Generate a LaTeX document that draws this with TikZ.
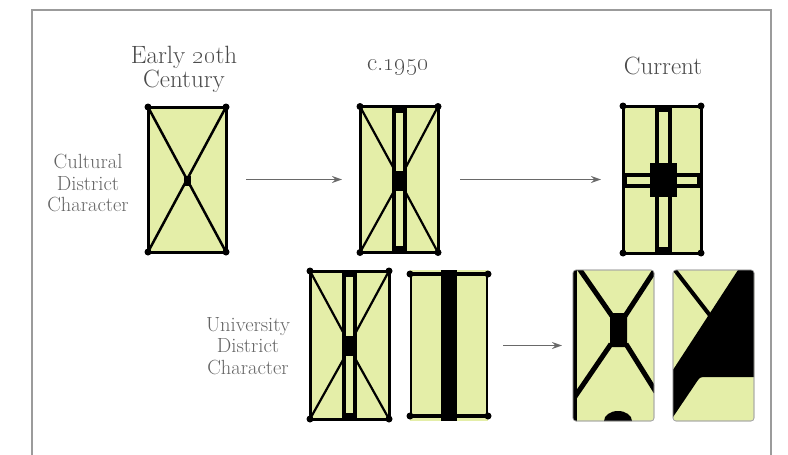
\documentclass[tikz,border=0pt]{standalone}
\usetikzlibrary{arrows.meta}
\definecolor{leaf}{RGB}{228,238,168}
\definecolor{txt}{RGB}{75,75,75}
\definecolor{sidec}{RGB}{100,100,100}
\definecolor{framec}{RGB}{155,155,155}
\definecolor{arrc}{RGB}{105,105,105}
\begin{document}
\begin{tikzpicture}[x=1pt,y=-1pt,
  panel/.style={draw=black, line width=3pt, fill=leaf, inner sep=0pt, outer sep=0pt},
  barepanel/.style={fill=leaf, inner sep=0pt, outer sep=0pt},
  softpanel/.style={draw=gray!70, line width=0.6pt, fill=leaf, rounded corners=3pt, inner sep=0pt, outer sep=0pt},
  road/.style={line width=2.5pt, black},
  wide/.style={line width=5pt, black},
  title/.style={text=txt, align=center, font=\fontsize{25}{24}\selectfont},
  side/.style={text=sidec, align=center, font=\fontsize{20.5}{21.5}\selectfont},
  arr/.style={draw=arrc, line width=1.4pt, -{Stealth[length=10pt,width=7pt]}}
]
\useasboundingbox (0,0) rectangle (788,455);
\draw[framec, line width=1.2pt] (32,455) -- (32,10) -- (771,10) -- (771,455);

% titles
\node[title] (t1) at (184,69) {Early \oldstylenums{20}th\\Century};
\node[title] (t2) at (398,67) {c.\oldstylenums{1950}};
\node[title] (t3) at (663,66) {Current};
\node[side] (s1) at (88,183) {Cultural\\District\\Character};
\node[side] (s2) at (248,346) {University\\District\\Character};

% ---- box 1
\node[panel, minimum width=78pt, minimum height=145pt] (b1) at (187,179.5) {};
\draw[road] (b1.north west) -- (b1.south east);
\draw[road] (b1.north east) -- (b1.south west);
\fill (183.5,175.5) rectangle (190.5,185.5);
\foreach \c in {north west,north east,south west,south east} \fill (b1.\c) circle[radius=3.5pt];

% ---- box 2
\node[panel, minimum width=78pt, minimum height=146pt] (b2) at (399,179.5) {};
\fill (392,106.5) rectangle (407,252.5);
\fill[leaf] (396.3,113) rectangle (402.7,171);
\fill[leaf] (396.3,191) rectangle (402.7,246);
\draw[road, line width=2.2pt] (b2.north west) -- (393,167);
\draw[road, line width=2.2pt] (b2.north east) -- (406,167);
\draw[road, line width=2.2pt] (b2.south west) -- (393,193);
\draw[road, line width=2.2pt] (b2.south east) -- (406,193);
\foreach \c in {north west,north east,south west,south east} \fill (b2.\c) circle[radius=3.5pt];

% ---- box 3
\node[panel, minimum width=78pt, minimum height=147pt] (b3) at (662,179.5) {};
\fill (655,106) rectangle (672,253);
\fill (623,173) rectangle (701,188);
\fill[leaf] (659,112) rectangle (668,247);
\fill[leaf] (627,177) rectangle (697,184);
\fill (650,163) rectangle (677,197);
\foreach \c in {north west,north east,south west,south east} \fill (b3.\c) circle[radius=3.5pt];

% ---- box 4
\node[panel, minimum width=79pt, minimum height=148pt] (b4) at (349.5,345) {};
\fill (342,271) rectangle (357,419);
\fill[leaf] (346,277) rectangle (353,336);
\fill[leaf] (346,356) rectangle (353,413);
\draw[road, line width=2.2pt] (b4.north west) -- (343,332);
\draw[road, line width=2.2pt] (b4.north east) -- (356,332);
\draw[road, line width=2.2pt] (b4.south west) -- (343,360);
\draw[road, line width=2.2pt] (b4.south east) -- (356,360);
\foreach \c in {north west,north east,south west,south east} \fill (b4.\c) circle[radius=3.5pt];

% ---- box 5
\node[barepanel, minimum width=78pt, minimum height=151pt] (b5) at (449,345.5) {};
\draw[line width=2.2pt] (411,274) -- (411,416);
\draw[line width=2.2pt] (487,274) -- (487,416);
\draw[line width=4pt] (410,274) -- (488,274);
\draw[line width=4pt] (410,416) -- (488,416);
\fill (441,270) rectangle (457,421);
\foreach \p in {(410,274),(488,274),(410,416),(488,416)} \fill \p circle[radius=3.5pt];

% ---- box 6
\node[softpanel, minimum width=81pt, minimum height=151pt] (b6) at (613.5,345.5) {};
\begin{scope}
  \clip[rounded corners=3pt] (573,270) rectangle (654,421);
  \draw[line width=4pt] (575,266) -- (575,425);
  \draw[wide] (578,267) -- (612,316);
  \draw[wide] (655,270) -- (625,316);
  \draw[wide] (611,344) -- (572,401);
  \draw[wide] (626,344) -- (656,392);
  \fill (612,313) -- (625,313) -- (627,316) -- (627,344) -- (625,347) -- (612,347) -- (610,344) -- (610,316) -- cycle;
  \fill (618,421) ellipse [x radius=14pt, y radius=10pt];
\end{scope}
\draw[gray!70, line width=0.6pt, rounded corners=3pt] (b6.north west) rectangle (b6.south east);

% ---- box 7
\node[softpanel, minimum width=81pt, minimum height=151pt] (b7) at (713.5,345.5) {};
\begin{scope}
  \clip[rounded corners=3pt] (673,270) rectangle (754,421);
  \draw[line width=4pt] (674,269) -- (712,318);
  \fill (740.6,266) -- (758,266) -- (758,377) -- (703,377) to[out=180,in=55] (698,380) -- (669,423) -- (669,376) -- cycle;
\end{scope}
\draw[gray!70, line width=0.6pt, rounded corners=3pt] (b7.north west) rectangle (b7.south east);

% ---- arrows
\draw[arr, shorten <=20pt, shorten >=18pt] (b1.east) -- (b2.west);
\draw[arr, shorten <=22pt, shorten >=22pt] (b2.east) -- (b3.west);
\draw[arr, shorten <=15pt, shorten >=11pt] (b5.east) -- (b6.west);
\end{tikzpicture}
\end{document}
